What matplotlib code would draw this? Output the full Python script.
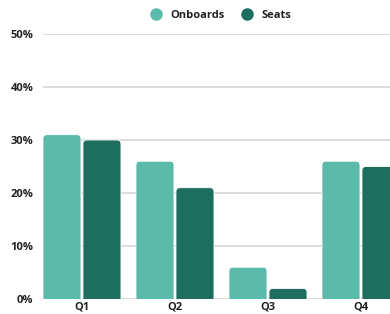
import matplotlib.pyplot as plt
from matplotlib.patches import FancyBboxPatch
from matplotlib.lines import Line2D
import numpy as np

quarters = ["Q1", "Q2", "Q3", "Q4"]
onboards = [31, 26, 6, 26]
seats = [30, 21, 2, 25]
y_ticks = [0, 10, 20, 30, 40, 50]

c_on = "#5bbaa9"
c_seat = "#1e6e60"

plt.rcParams['font.family'] = ['Open Sans', 'DejaVu Sans']

fig = plt.figure(figsize=(3.9, 3.14), dpi=100)
ax = fig.add_axes([43 / 390, 15 / 314, 1 - 43 / 390, 265 / 314])

x = np.arange(len(quarters))
w = 0.409
off = 0.215
b1 = ax.bar(x - off, onboards, w, color=c_on)
b2 = ax.bar(x + off, seats, w, color=c_seat)

ax.set_xlim(-0.419, 3.312)
ax.set_ylim(0, 50)

# swap plain bars for rounded-top ones
px_x = (3.312 + 0.419) / 347
px_y = 50 / 265
r = 4 * px_x
for bars, col in [(b1, c_on), (b2, c_seat)]:
    for rect in bars:
        rect.set_visible(False)
        bx, h, bw = rect.get_x(), rect.get_height(), rect.get_width()
        p = FancyBboxPatch((bx, -5), bw, h + 5,
                           boxstyle=f"round,pad=0,rounding_size={r}",
                           mutation_aspect=px_y / px_x,
                           facecolor=col, edgecolor="white", linewidth=0.6,
                           zorder=3)
        ax.add_patch(p)

ax.set_yticks(y_ticks)
ax.set_yticklabels([f"{v}%" for v in y_ticks])
ax.set_xticks(x)
ax.set_xticklabels(quarters)
ax.tick_params(length=0, labelsize=8, colors="#222222")
ax.tick_params(axis="y", pad=7)
ax.tick_params(axis="x", pad=1.5)
for lab in ax.get_xticklabels() + ax.get_yticklabels():
    lab.set_fontweight("bold")

ax.grid(axis="y", color="#d9d9d9", linewidth=1.3)
ax.set_axisbelow(True)
for s in ax.spines.values():
    s.set_visible(False)

handles = [Line2D([], [], marker="o", linestyle="", markersize=8, color=c_on),
           Line2D([], [], marker="o", linestyle="", markersize=8, color=c_seat)]
fig.legend(handles, ["Onboards", "Seats"], loc="center", bbox_to_anchor=(218 / 390, 1 - 15 / 314),
           ncol=2, frameon=False, handletextpad=0.3, columnspacing=1.0,
           prop={"weight": "bold", "size": 8}, labelcolor="#222222")

fig.savefig("out.png", dpi=100)
